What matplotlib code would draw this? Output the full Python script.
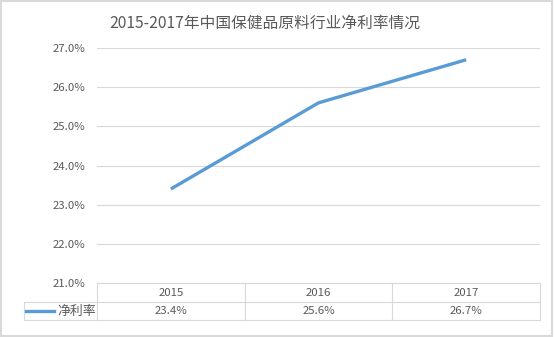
import matplotlib
matplotlib.use("Agg")
import matplotlib.pyplot as plt
from matplotlib.lines import Line2D
from matplotlib.patches import Rectangle
from matplotlib.ticker import FuncFormatter

plt.rcParams['font.family'] = ['Noto Sans CJK SC', 'DejaVu Sans']

years = ["2015", "2016", "2017"]
net_margin = [23.4, 25.6, 26.7]
series_name = "净利率"
title = "2015-2017年中国保健品原料行业净利率情况"

W, H = 554, 337
fig = plt.figure(figsize=(W / 100, H / 100), dpi=100)

def fx(px):
    return px / W

def fy(py):
    return 1 - py / H

left, right, top, bottom = 97, 540, 48, 283
ax = fig.add_axes([fx(left), fy(bottom), fx(right) - fx(left), fy(top) - fy(bottom)])

grid_c = "#d9d9d9"
text_c = "#595959"
line_c = "#5b9bd5"

x = list(range(len(years)))
ax.plot(x, net_margin, color=line_c, lw=2.4, solid_capstyle="butt", zorder=3)

ax.set_xlim(-0.5, len(years) - 0.5)
ax.set_ylim(21, 27)
ax.set_yticks([21, 22, 23, 24, 25, 26, 27])
ax.yaxis.set_major_formatter(FuncFormatter(lambda v, p: f"{v:.1f}%"))
ax.tick_params(axis="y", length=0, pad=8.5, labelsize=8.2, labelcolor=text_c)
ax.set_xticks([])
ax.grid(axis="y", color=grid_c, lw=0.8)
ax.set_axisbelow(True)
for s in ax.spines.values():
    s.set_visible(False)

# data table under the plot
row1, row2 = 302, 320
leg_left = 24
lines = [
    ((left, right), (bottom, bottom)),
    ((leg_left, right), (row1, row1)),
    ((leg_left, right), (row2, row2)),
    ((leg_left, leg_left), (row1, row2)),
]
col_w = (right - left) / len(years)
for i in range(len(years) + 1):
    xe = left + i * col_w
    lines.append(((xe, xe), (bottom, row2)))
for (xs, ys) in lines:
    fig.add_artist(Line2D([fx(v) for v in xs], [fy(v) for v in ys],
                          color=grid_c, lw=0.8))

for i, (yr, val) in enumerate(zip(years, net_margin)):
    cx = ax.transData.transform((i, 0))[0] / fig.bbox.width
    fig.text(cx, fy((bottom + row1) / 2), yr, ha="center", va="center",
             fontsize=8.2, color=text_c)
    fig.text(cx, fy((row1 + row2) / 2), f"{val:.1f}%", ha="center", va="center",
             fontsize=8.2, color=text_c)

# legend key inside the table
ym = fy((row1 + row2) / 2)
fig.add_artist(Line2D([fx(26), fx(54)], [ym, ym], color=line_c, lw=2.4))
fig.text(fx(57), ym, series_name, ha="left", va="center", fontsize=9.3, color=text_c)

fig.text(fx(265), fy(23), title, ha="center", va="center", fontsize=11.3, color=text_c)

fig.add_artist(Rectangle((fx(1), fy(H - 1)), fx(W - 3), fy(1) - fy(H - 1),
                         fill=False, edgecolor=grid_c, lw=1.5))

fig.savefig("out.png", dpi=100, facecolor="white")
